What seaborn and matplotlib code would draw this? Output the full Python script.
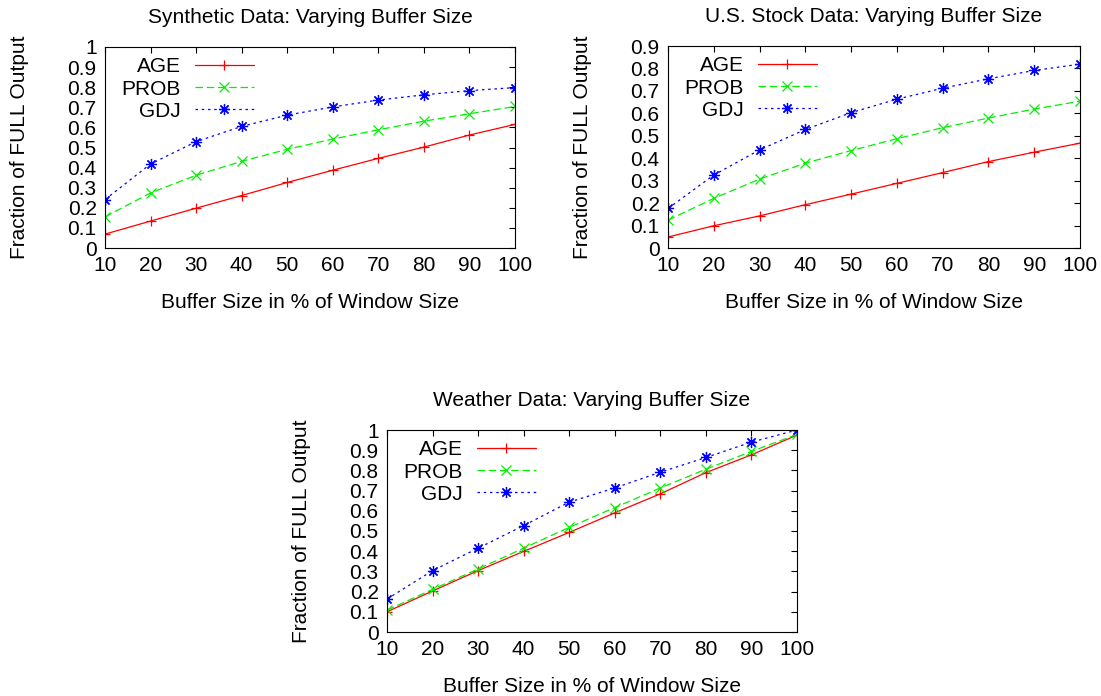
import numpy as np
import pandas as pd
import matplotlib
matplotlib.use("Agg")
import matplotlib.pyplot as plt
from matplotlib.ticker import FormatStrFormatter
import seaborn as sns

# buffer size in % of window size
buffer_pct = [10, 20, 30, 40, 50, 60, 70, 80, 90, 100]

# Synthetic data
syn_age = [0.069, 0.134, 0.198, 0.261, 0.326, 0.387, 0.446, 0.502, 0.562, 0.615]
syn_prob = [0.155, 0.274, 0.362, 0.431, 0.491, 0.542, 0.588, 0.631, 0.668, 0.704]
syn_gdj = [0.241, 0.418, 0.529, 0.605, 0.661, 0.702, 0.736, 0.762, 0.783, 0.798]

# U.S. stock data
stk_age = [0.049, 0.099, 0.143, 0.193, 0.240, 0.288, 0.336, 0.385, 0.427, 0.467]
stk_prob = [0.124, 0.221, 0.307, 0.378, 0.434, 0.487, 0.536, 0.579, 0.619, 0.654]
stk_gdj = [0.176, 0.325, 0.437, 0.528, 0.603, 0.663, 0.712, 0.754, 0.791, 0.819]

# Weather data
wth_age = [0.100, 0.203, 0.304, 0.399, 0.493, 0.590, 0.684, 0.789, 0.877, 0.975]
wth_prob = [0.108, 0.211, 0.312, 0.415, 0.518, 0.616, 0.713, 0.806, 0.894, 0.978]
wth_gdj = [0.163, 0.304, 0.415, 0.527, 0.643, 0.713, 0.791, 0.864, 0.940, 1.0]

panel_titles = ["Synthetic Data: Varying Buffer Size",
                "U.S. Stock Data: Varying Buffer Size",
                "Weather Data: Varying Buffer Size"]
panel_ymax = [1.0, 0.9, 1.0]
methods = ["AGE", "PROB", "GDJ"]

sns.set_style("white")
plt.rcParams["font.family"] = ["Liberation Sans", "DejaVu Sans"]
plt.rcParams["font.size"] = 15
plt.rcParams["text.color"] = "black"
plt.rcParams["axes.labelcolor"] = "black"

styles = {
    "AGE": dict(color="#ff0000", markeredgecolor="#ff0000", linestyle="-",
                marker="+", markersize=7),
    "PROB": dict(color="#00f000", markeredgecolor="#00f000", linestyle=(0, (6, 3)),
                 marker="x", markersize=6.5),
    "GDJ": dict(color="#0000ff", markeredgecolor="#0000ff", linestyle=(0, (2, 3)),
                marker=(8, 2, 0), markersize=8),
}

fig = plt.figure(figsize=(11.01, 6.96), dpi=100)
rects = [
    [105 / 1101, (696 - 248) / 696, 410 / 1101, 201 / 696],
    [668 / 1101, (696 - 248) / 696, 412 / 1101, 202 / 696],
    [387 / 1101, (696 - 632) / 696, 410 / 1101, 202 / 696],
]
data = [
    (syn_age, syn_prob, syn_gdj),
    (stk_age, stk_prob, stk_gdj),
    (wth_age, wth_prob, wth_gdj),
]

for rect, title, ymax, series in zip(rects, panel_titles, panel_ymax, data):
    ax = fig.add_axes(rect)
    df = pd.DataFrame({"pct": buffer_pct, "AGE": series[0], "PROB": series[1], "GDJ": series[2]})
    for m in methods:
        sns.lineplot(data=df, x="pct", y=m, ax=ax, label=m, linewidth=0.9,
                     markeredgewidth=0.9, **styles[m])
    ax.set_xlim(10, 100)
    ax.set_ylim(0, ymax)
    ax.set_xticks(buffer_pct)
    ax.set_yticks(np.round(np.arange(0, ymax + 0.001, 0.1), 1))
    ax.yaxis.set_major_formatter(FormatStrFormatter("%g"))
    ax.tick_params(direction="in", length=4, width=0.8, top=True, right=True,
                   labelsize=15, pad=6, colors="black")
    for s in ax.spines.values():
        s.set_visible(True)
        s.set_color("black")
        s.set_linewidth(0.8)
    ax.set_title(title, fontsize=15, pad=17, color="black")
    ax.set_xlabel("Buffer Size in % of Window Size", fontsize=15, labelpad=13, color="black")
    ax.set_ylabel("Fraction of FULL Output", fontsize=15, labelpad=28, color="black")
    leg = ax.legend(loc="upper left", bbox_to_anchor=(0.01, 1.01), frameon=False,
                    markerfirst=False, handlelength=2.85, handletextpad=0.65,
                    labelspacing=0.15, borderaxespad=0.2, fontsize=15)
    for t in leg.get_texts():
        t.set_color("black")
    # right-align legend labels like gnuplot
    for vp in leg._legend_handle_box.get_children():
        vp.align = "right"

fig.savefig("out.png", dpi=100)
